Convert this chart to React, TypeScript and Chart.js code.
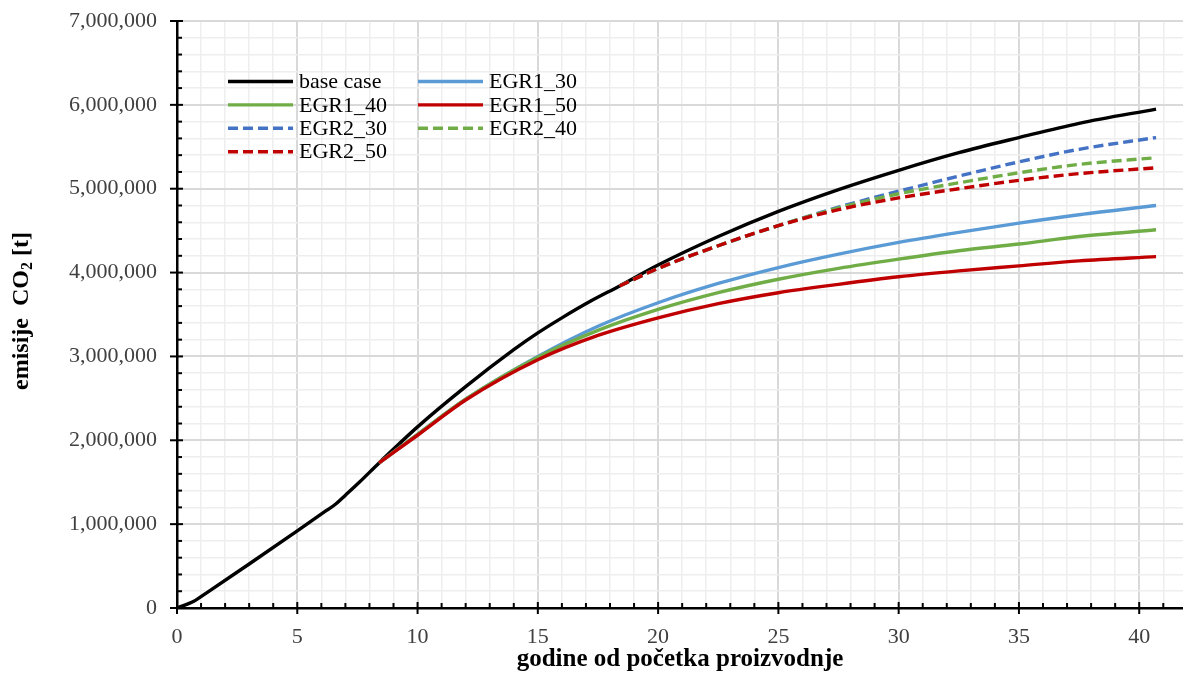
import React, { useEffect, useRef } from 'react';
import { Chart, registerables } from 'chart.js';

Chart.register(...registerables);

// ---- data (tonnes of CO2 vs years from start of production) ----
const baseX = [0, 0.7, 1.2, 3, 5, 6.2, 6.6, 7.0, 7.6, 8.4, 10, 12, 14, 15, 16, 17.2, 18.4, 20, 22.5, 25, 27.5, 30, 32.5, 35, 37.5, 40.7];
const baseY = [0, 80000, 175000, 525000, 920000, 1160000, 1240000, 1345000, 1505000, 1730000, 2160000, 2640000, 3080000, 3280000, 3460000, 3660000, 3840000, 4090000, 4430000, 4730000, 4990000, 5220000, 5430000, 5610000, 5780000, 5950000];

const egr1X = [8.4, 10, 12, 15, 17.5, 20, 22.5, 25, 27.5, 30, 32.5, 35, 37.5, 40.7];
const egr1_30 = [1730000, 2070000, 2490000, 3000000, 3360000, 3640000, 3870000, 4060000, 4220000, 4360000, 4480000, 4590000, 4690000, 4800000];
const egr1_40 = [1730000, 2070000, 2490000, 2990000, 3310000, 3560000, 3760000, 3920000, 4050000, 4160000, 4260000, 4340000, 4430000, 4510000];
const egr1_50 = [1730000, 2060000, 2480000, 2960000, 3250000, 3460000, 3630000, 3760000, 3860000, 3950000, 4020000, 4080000, 4140000, 4190000];

const egr2X = [18.4, 20, 22.5, 25, 27.5, 30, 32.5, 35, 37.5, 40.7];
const egr2_30 = [3840000, 4050000, 4320000, 4560000, 4780000, 4970000, 5150000, 5320000, 5470000, 5610000];
const egr2_40 = [3840000, 4050000, 4320000, 4560000, 4770000, 4940000, 5070000, 5190000, 5290000, 5370000];
const egr2_50 = [3840000, 4050000, 4320000, 4560000, 4750000, 4890000, 5000000, 5100000, 5180000, 5250000];

const seriesLabels = ['base case', 'EGR1_30', 'EGR1_40', 'EGR1_50', 'EGR2_30', 'EGR2_40', 'EGR2_50'];
const seriesColors = ['#000000', '#5b9bd5', '#70ad47', '#c00000', '#4472c4', '#70ad47', '#c00000'];
const seriesDashed = [false, false, false, false, true, true, true];

const xTickLabels = ['0', '5', '10', '15', '20', '25', '30', '35', '40'];
const yTickLabels = ['0', '1,000,000', '2,000,000', '3,000,000', '4,000,000', '5,000,000', '6,000,000', '7,000,000'];

const FONT = "'Liberation Serif', 'Times New Roman', serif";
const DASH = [10, 5];

const toPts = (xs: number[], ys: number[]) => xs.map((x, i) => ({ x, y: ys[i] }));

export default function App() {
  const ref = useRef<HTMLCanvasElement | null>(null);

  useEffect(() => {
    document.body.style.margin = '0';
    const canvas = ref.current;
    if (!canvas) return;

    const seriesData = [
      toPts(baseX, baseY),
      toPts(egr1X, egr1_30),
      toPts(egr1X, egr1_40),
      toPts(egr1X, egr1_50),
      toPts(egr2X, egr2_30),
      toPts(egr2X, egr2_40),
      toPts(egr2X, egr2_50),
    ];

    const datasets = seriesLabels.map((label, i) => ({
      label,
      data: seriesData[i],
      borderColor: seriesColors[i],
      backgroundColor: seriesColors[i],
      borderWidth: 3.4,
      borderDash: seriesDashed[i] ? DASH : [],
      pointRadius: 0,
      fill: false,
      cubicInterpolationMode: 'monotone' as const,
      order: seriesLabels.length - i,
    }));

    const tickPlugin = {
      id: 'excelTicks',
      beforeDatasetsDraw(chart: any) {
        const ctx = chart.ctx;
        const xs = chart.scales.x;
        const ys = chart.scales.y;
        const ca = chart.chartArea;
        ctx.save();
        ctx.strokeStyle = '#000';
        ctx.lineWidth = 2;
        xs.ticks.forEach((t: any) => {
          const px = xs.getPixelForValue(t.value);
          const major = Math.abs(t.value % 5) < 1e-9;
          ctx.beginPath();
          if (major) {
            ctx.moveTo(px, ca.bottom - 6);
            ctx.lineTo(px, ca.bottom + 6);
          } else {
            ctx.moveTo(px, ca.bottom);
            ctx.lineTo(px, ca.bottom - 5);
          }
          ctx.stroke();
        });
        ys.ticks.forEach((t: any) => {
          const py = ys.getPixelForValue(t.value);
          const major = Math.abs(t.value % 1000000) < 1e-6;
          ctx.beginPath();
          if (major) {
            ctx.moveTo(ca.left - 7, py);
            ctx.lineTo(ca.left + 6, py);
          } else {
            ctx.moveTo(ca.left, py);
            ctx.lineTo(ca.left + 5, py);
          }
          ctx.stroke();
        });
        ctx.restore();
      },
    };

    const legendPlugin = {
      id: 'insideLegend',
      afterDatasetsDraw(chart: any) {
        const ctx = chart.ctx;
        const cols = [228, 418];
        const lineLen = 65;
        const rowY0 = 81.5;
        const rowH = 23.4;
        ctx.save();
        ctx.font = `22px ${FONT}`;
        ctx.textBaseline = 'middle';
        ctx.textAlign = 'left';
        chart.data.datasets.forEach((ds: any, i: number) => {
          const col = i % 2;
          const row = Math.floor(i / 2);
          const x = cols[col];
          const y = rowY0 + row * rowH;
          ctx.strokeStyle = ds.borderColor;
          ctx.lineWidth = 3.4;
          ctx.setLineDash(ds.borderDash || []);
          ctx.beginPath();
          ctx.moveTo(x, y);
          ctx.lineTo(x + lineLen, y);
          ctx.stroke();
          ctx.setLineDash([]);
          ctx.fillStyle = '#000';
          ctx.fillText(ds.label, x + lineLen + 6, y + 1);
        });
        ctx.restore();
      },
    };

    const yTitlePlugin = {
      id: 'yTitle',
      afterDraw(chart: any) {
        const ctx = chart.ctx;
        ctx.save();
        ctx.translate(28, 311);
        ctx.rotate(-Math.PI / 2);
        ctx.fillStyle = '#000';
        ctx.textBaseline = 'alphabetic';
        ctx.textAlign = 'left';
        const big = `bold 24px ${FONT}`;
        const small = `bold 16px ${FONT}`;
        const p1 = 'emisije  CO';
        const p2 = '2';
        const p3 = ' [t]';
        ctx.font = big;
        const w1 = ctx.measureText(p1).width;
        const w3 = ctx.measureText(p3).width;
        ctx.font = small;
        const w2 = ctx.measureText(p2).width;
        const total = w1 + w2 + w3;
        let x = -total / 2;
        ctx.font = big;
        ctx.fillText(p1, x, 0);
        x += w1;
        ctx.font = small;
        ctx.fillText(p2, x, 4);
        x += w2;
        ctx.font = big;
        ctx.fillText(p3, x, 0);
        ctx.restore();
      },
    };

    const chart = new Chart(canvas, {
      type: 'line',
      data: { datasets: datasets as any },
      options: {
        animation: false,
        responsive: false,
        devicePixelRatio: 1,
        layout: { padding: { left: 45, top: 21, right: 0, bottom: 0 } },
        plugins: {
          legend: { display: false },
          tooltip: { enabled: false },
        },
        scales: {
          x: {
            type: 'linear',
            min: 0,
            max: 41.82,
            afterFit: (scale: any) => {
              scale.height = 67;
              scale.paddingLeft = 0;
              scale.paddingRight = 0;
            },
            ticks: {
              stepSize: 1,
              autoSkip: false,
              includeBounds: false,
              maxRotation: 0,
              padding: 16,
              color: '#404040',
              font: { family: FONT, size: 22 },
              callback: (v: any) => {
                const n = Number(v);
                return n % 5 === 0 ? xTickLabels[n / 5] ?? '' : '';
              },
            },
            grid: {
              drawTicks: false,
              color: (c: any) => (c.tick && c.tick.value % 5 === 0 ? '#d9d9d9' : '#eeeeee'),
              lineWidth: (c: any) => (c.tick && c.tick.value % 5 === 0 ? 2 : 1.5),
            },
            border: { color: '#000', width: 2.5 },
            title: {
              display: true,
              text: 'godine od početka proizvodnje',
              color: '#000',
              font: { family: FONT, size: 25, weight: 'bold' },
              padding: { top: 0, bottom: 0 },
            },
          },
          y: {
            type: 'linear',
            min: 0,
            max: 7000000,
            afterFit: (scale: any) => {
              scale.width = 132;
              scale.paddingTop = 0;
              scale.paddingBottom = 0;
            },
            ticks: {
              stepSize: 200000,
              autoSkip: false,
              padding: 20,
              color: '#404040',
              font: { family: FONT, size: 22 },
              callback: (v: any) => {
                const n = Number(v);
                return n % 1000000 === 0 ? yTickLabels[n / 1000000] ?? '' : '';
              },
            },
            grid: {
              drawTicks: false,
              color: (c: any) => (c.tick && c.tick.value % 1000000 === 0 ? '#d9d9d9' : '#eeeeee'),
              lineWidth: (c: any) => (c.tick && c.tick.value % 1000000 === 0 ? 2 : 1.5),
            },
            border: { color: '#000', width: 2.5 },
          },
        },
      },
      plugins: [tickPlugin, legendPlugin, yTitlePlugin],
    });

    return () => chart.destroy();
  }, []);

  return (
    <div style={{ width: 1183, height: 675, position: 'relative', background: '#fff' }}>
      <canvas ref={ref} width={1183} height={675} style={{ display: 'block' }} />
    </div>
  );
}
